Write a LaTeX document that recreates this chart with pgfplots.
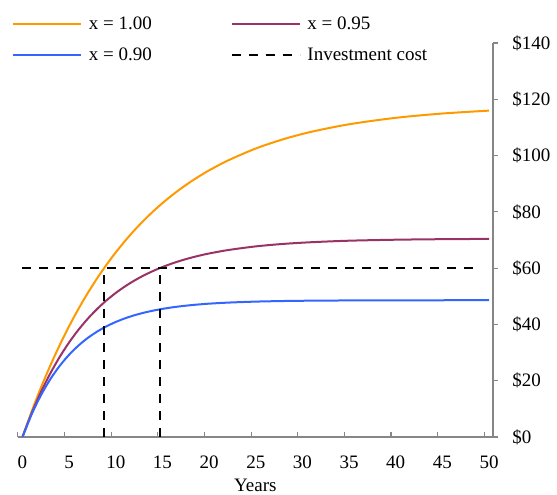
\documentclass[border=0pt]{standalone}
\usepackage{fontspec}
\setmainfont{Liberation Serif}
\usepackage{pgfplots}
\usepackage{pgfplotstable}
\pgfplotsset{compat=1.18}
\definecolor{cOrange}{HTML}{FF9900}
\definecolor{cPurple}{HTML}{993366}
\definecolor{cBlue}{HTML}{3366FF}
\definecolor{cAxis}{HTML}{868686}

\pgfplotstableread{
t v
0 0
1 9.20
2 17.69
3 25.51
4 32.72
5 39.38
6 45.51
7 51.16
8 56.38
9 61.18
10 65.61
11 69.70
12 73.47
13 76.94
14 80.15
15 83.10
16 85.82
17 88.32
18 90.64
19 92.77
20 94.74
22 98.22
25 102.51
28 105.86
31 108.48
35 111.12
40 113.41
45 114.94
50 115.97
}\dataA

\pgfplotstableread{
t v
0 0
1 8.57
2 16.09
3 22.70
4 28.51
5 33.61
6 38.09
7 42.03
8 45.49
9 48.53
10 51.19
11 53.54
12 55.60
13 57.41
14 58.99
15 60.39
16 61.62
17 62.70
18 63.65
19 64.48
20 65.21
22 66.41
25 67.73
28 68.62
31 69.22
35 69.75
40 70.10
45 70.29
50 70.39
}\dataB

\pgfplotstableread{
t v
0 0
1 8.17
2 14.96
3 20.62
4 25.32
5 29.23
6 32.49
7 35.20
8 37.45
9 39.32
10 40.88
11 42.18
12 43.26
13 44.15
14 44.90
15 45.52
16 46.04
17 46.47
18 46.83
19 47.13
20 47.38
22 47.75
25 48.11
28 48.32
31 48.44
35 48.52
40 48.57
45 48.59
50 48.60
}\dataC

\begin{document}
\begin{tikzpicture}[font=\fontsize{19}{23}\selectfont]
\begin{axis}[
  scale only axis, width=475pt, height=394pt,
  xmin=-0.5, xmax=50.4, ymin=0, ymax=140,
  axis x line*=bottom, axis y line*=right,
  axis line style={cAxis, line width=1.6pt, -},
  /pgf/number format/assume math mode=true,
  xtick pos=bottom, ytick pos=right, yticklabel pos=right,
  xtick={-0.5,4.5,...,49.5}, xticklabels={},
  extra x ticks={0,5,...,50},
  extra x tick style={major tick length=0pt},
  xticklabel style={anchor=base, inner sep=0pt, yshift=-31.5pt},
  xtick align=inside, ytick align=outside,
  major tick length=5pt,
  tick style={cAxis, line width=1.2pt},
  ytick={0,20,...,140},
  yticklabel={\$\pgfmathprintnumber{\tick}},
  yticklabel style={anchor=west, inner sep=0pt, xshift=14.3pt},
  xlabel={Years},
  xlabel style={at={(axis description cs:0.5,0)}, anchor=base, inner sep=0pt, yshift=-55pt},
  legend columns=2,
  legend cell align=left,
  legend style={draw=none, fill=none, inner sep=0pt, outer sep=0pt,
    at={(axis description cs:-0.0112,1.0711)}, anchor=north west,
    row sep=12.7pt,
    nodes={inner sep=0pt, text height=15pt, text depth=3pt},
    /tikz/every odd column/.append style={column sep=6.5pt},
    /tikz/every even column/.append style={column sep=79pt}},
  legend image code/.code={\draw[#1] (0pt,0pt) -- (68pt,0pt);},
]
\addplot[cOrange, line width=2pt, smooth] table[x=t, y=v] {\dataA};
\addlegendentry{x = 1.00}
\addplot[cPurple, line width=2pt, smooth] table[x=t, y=v] {\dataB};
\addlegendentry{x = 0.95}
\addplot[cBlue, line width=2pt, smooth] table[x=t, y=v] {\dataC};
\addlegendentry{x = 0.90}
\addplot[black, line width=2pt, dash pattern=on 9pt off 8pt] coordinates {(0,60) (49,60)};
\addlegendentry{Investment cost}
\addplot[black, line width=2pt, dash pattern=on 9pt off 8pt, forget plot] coordinates {(8.75,0) (8.75,60)};
\addplot[black, line width=2pt, dash pattern=on 9pt off 8pt, forget plot] coordinates {(14.7,0) (14.7,60)};
\coordinate (O) at (axis cs:-0.5,0);
\end{axis}
\pgfresetboundingbox
\path (O) ++(-17.8pt,437pt) rectangle ++(557pt,-495pt);
\end{tikzpicture}
\end{document}
